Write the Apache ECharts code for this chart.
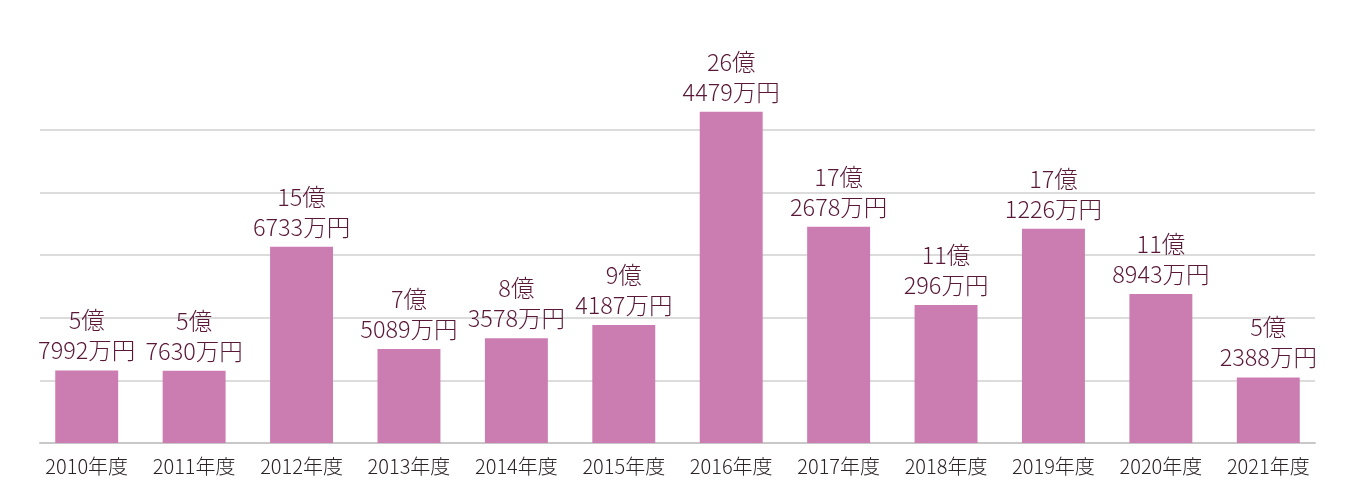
<!DOCTYPE html>
<html><head><meta charset="utf-8">
<script src="https://cdn.jsdelivr.net/npm/echarts@6/dist/echarts.min.js"></script>
<style>html,body{margin:0;padding:0;background:#fff}#c{width:1356px;height:491px}</style>
</head><body><div id="c"></div>
<script>
const categories = ['2010年度','2011年度','2012年度','2013年度','2014年度','2015年度','2016年度','2017年度','2018年度','2019年度','2020年度','2021年度'];
// values in 万円
const values = [57992, 57630, 156733, 75089, 83578, 94187, 264479, 172678, 110296, 171226, 118943, 52388];
const yTicks = [0, 50000, 100000, 150000, 200000, 250000];

const font = '"Noto Sans CJK JP", "Noto Sans", sans-serif';
const chart = echarts.init(document.getElementById('c'));
chart.setOption({
  animation: false,
  grid: [
    {left: 33, right: 34, top: 130, bottom: 48},
    {left: 40, right: 41, top: 130, bottom: 48}
  ],
  xAxis: [
    {type: 'category', data: categories, gridIndex: 0,
     axisLine: {show: false}, axisTick: {show: false},
     axisLabel: {color: '#2b2226', fontSize: 20, fontFamily: font, fontWeight: 300, interval: 0, margin: 13}},
    {type: 'category', data: categories, gridIndex: 1,
     axisLine: {show: true, lineStyle: {color: '#c8c8c8', width: 2}},
     axisTick: {show: false}, axisLabel: {show: false}}
  ],
  yAxis: [
    {type: 'value', gridIndex: 0, min: 0, max: yTicks[yTicks.length-1], interval: 50000,
     axisLabel: {show: false}, splitLine: {show: false}, axisLine: {show: false}, axisTick: {show: false}},
    {type: 'value', gridIndex: 1, min: 0, max: yTicks[yTicks.length-1], interval: 50000,
     axisLabel: {show: false}, axisLine: {show: false}, axisTick: {show: false},
     splitLine: {show: true, lineStyle: {color: '#d0d0d0', width: 1.5}}}
  ],
  series: [{
    type: 'bar', data: values, xAxisIndex: 0, yAxisIndex: 0, z: 3,
    clip: false,
    barWidth: '58.6%',
    itemStyle: {color: '#cb7db2'},
    label: {
      show: true, position: 'top', distance: 5,
      color: '#5a1838', fontSize: 23.5, lineHeight: 30, fontFamily: font, fontWeight: 300,
      formatter: p => Math.floor(p.value / 10000) + '億\n' + (p.value % 10000) + '万円'
    }
  }]
});
</script></body></html>
